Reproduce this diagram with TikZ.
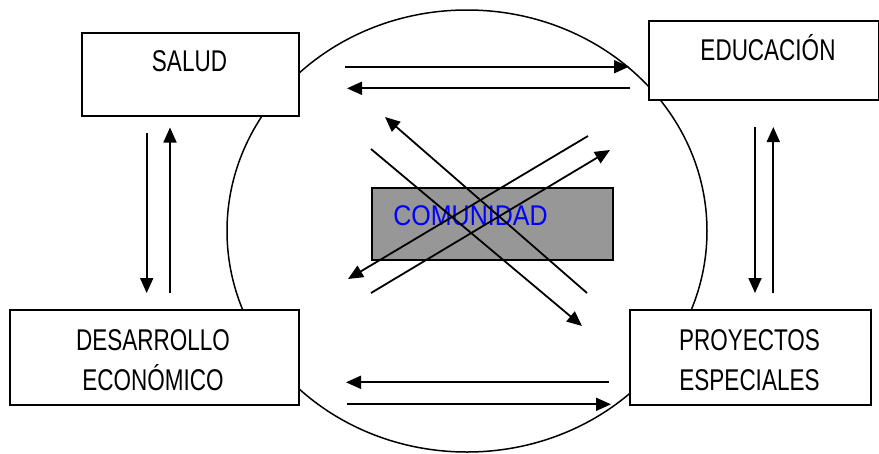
\documentclass[tikz,border=0pt]{standalone}
\usepackage{fontspec}
\setmainfont[FakeStretch=0.75]{Liberation Sans}
\usetikzlibrary{arrows.meta}
\definecolor{commgray}{HTML}{979797}
\definecolor{commblue}{HTML}{0000FF}
\begin{document}
\begin{tikzpicture}[x=1pt,y=-1pt,
  boxst/.style={draw=black,line width=1.8pt,fill=white,rectangle,inner sep=0pt,anchor=north west},
  lbl/.style={anchor=base,inner sep=0pt,font=\fontsize{30}{34}\selectfont},
  arr/.style={line width=1.8pt,-{Triangle[length=15pt,width=13pt]}}]
\useasboundingbox (0,0) rectangle (879,453);
\fill[white] (0,0) rectangle (879,453);
% big circle
\draw[line width=1.5pt] (467,231) ellipse [x radius=240, y radius=221];
% boxes
\node[boxst,minimum width=217pt,minimum height=83pt] (salud) at (81,32) {};
\node[boxst,minimum width=230pt,minimum height=79pt] (educ) at (648,20) {};
\node[boxst,minimum width=289pt,minimum height=95pt] (desa) at (9,309) {};
\node[boxst,minimum width=241pt,minimum height=95pt] (proy) at (629,309) {};
\node[boxst,fill=commgray,minimum width=241pt,minimum height=72pt] (comu) at (371,187) {};
% labels
\node[lbl] (saludt) at (189.5,71) {SALUD};
\node[lbl] (educt) at (768,60.5) {EDUCACIÓN};
\node[lbl] (desat1) at (153,350) {DESARROLLO};
\node[lbl] (desat2) at (153,390) {ECONÓMICO};
\node[lbl] (proyt1) at (749.5,350) {PROYECTOS};
\node[lbl] (proyt2) at (749.5,390) {ESPECIALES};
\node[lbl,text=commblue,font=\fontsize{28.5}{32}\selectfont] (comut) at (470.5,225.5) {\scalebox{1.17}[1]{COMUNIDAD}};
% arrow end points
\coordinate (a1s) at (345,66.7);  \coordinate (a1e) at (629,66.7);
\coordinate (a2s) at (630,88.3);  \coordinate (a2e) at (347,88.3);
\coordinate (a3s) at (609,382.3); \coordinate (a3e) at (346,382.3);
\coordinate (a4s) at (346.7,404.3); \coordinate (a4e) at (611,404.3);
\coordinate (v1s) at (146.7,133.3); \coordinate (v1e) at (146.7,293);
\coordinate (v2s) at (170,293.3); \coordinate (v2e) at (170,127.5);
\coordinate (v3s) at (755,126.7); \coordinate (v3e) at (755,293);
\coordinate (v4s) at (773.3,293.3); \coordinate (v4e) at (773.3,127);
\coordinate (d1s) at (587,293); \coordinate (d1e) at (385,117);
\coordinate (d2s) at (371,149); \coordinate (d2e) at (582,326);
\coordinate (d3s) at (588,136); \coordinate (d3e) at (348,279);
\coordinate (d4s) at (371,293); \coordinate (d4e) at (610,150);
% arrows
\foreach \a in {a1,a2,a3,a4,v1,v2,v3,v4,d1,d2,d3,d4}
  \draw[arr] (\a s) -- (\a e);
\end{tikzpicture}
\end{document}
